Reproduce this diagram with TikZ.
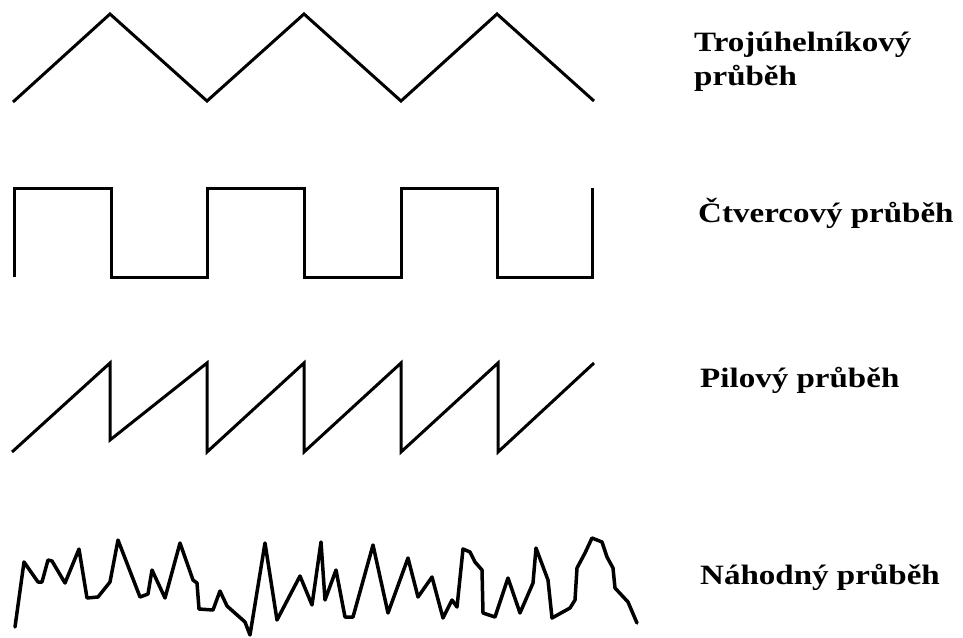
\documentclass[tikz,border=0pt]{standalone}
\usepackage{fontspec}
\usepackage{graphicx}
\setmainfont{Liberation Serif}
\newcommand\widetext[1]{\scalebox{1.18}[1]{#1}}
\begin{document}
\begin{tikzpicture}[x=1pt,y=-1pt,
  wave/.style={line width=3pt,black,line join=miter},
  noisy/.style={line width=3.5pt,black,line join=round,line cap=round},
  lbl/.style={font=\fontsize{28}{34}\selectfont\bfseries,inner sep=0pt,anchor=base west}]
\useasboundingbox (0,0) rectangle (963,637);

% triangle wave
\draw[wave] (13,102) -- (110,14) -- (207,101) -- (304,14) -- (401,101)
  -- (497,14) -- (594,101);

% square wave
\draw[wave] (14,277) -- (14,188) -- (111,188) -- (111,277) -- (207,277)
  -- (207,188) -- (304,188) -- (304,277) -- (401,277) -- (401,188)
  -- (497,188) -- (497,277) -- (592,277) -- (592,188);

% sawtooth wave
\draw[wave] (12,452) -- (110,363) -- (110,440) -- (207,363) -- (207,452)
  -- (304,363) -- (304,452) -- (401,363) -- (401,452) -- (498,363)
  -- (498,452) -- (594,363);

% random signal
\draw[noisy] (15,627) -- (24,562) -- (38,582) -- (42,582) -- (48,560)
  -- (52,561) -- (65,583) -- (79,549) -- (87,598) -- (98,597) -- (110,582)
  -- (118,540) -- (140,597) -- (148,594) -- (152,570) -- (165,598)
  -- (180,543) -- (193,580) -- (197,583) -- (199,609) -- (213,610)
  -- (220,591) -- (227,606) -- (245,622) -- (250,635) -- (265,543)
  -- (277,620) -- (300,576) -- (312,605) -- (321,542) -- (325,600)
  -- (336,570) -- (345,617) -- (353,617) -- (373,545) -- (388,613)
  -- (408,558) -- (418,597) -- (432,577) -- (443,618) -- (452,600)
  -- (457,607) -- (463,549) -- (470,552) -- (475,562) -- (482,570)
  -- (483,613) -- (495,617) -- (508,578) -- (520,613) -- (533,583)
  -- (536,548) -- (548,580) -- (552,618) -- (570,608) -- (575,600)
  -- (577,568) -- (585,553) -- (592,538) -- (602,542) -- (607,557)
  -- (613,568) -- (615,588) -- (628,602) -- (637,623);

% labels
\node[lbl] (tri1) at (694,51) {\widetext{Trojúhelníkový}};
\node[lbl] (tri2) at (694,85) {\widetext{průběh}};
\node[lbl] (sq) at (698,222) {\widetext{Čtvercový průběh}};
\node[lbl] (saw) at (700,387) {\widetext{Pilový průběh}};
\node[lbl] (rnd) at (700,584) {\widetext{Náhodný průběh}};
\end{tikzpicture}
\end{document}
